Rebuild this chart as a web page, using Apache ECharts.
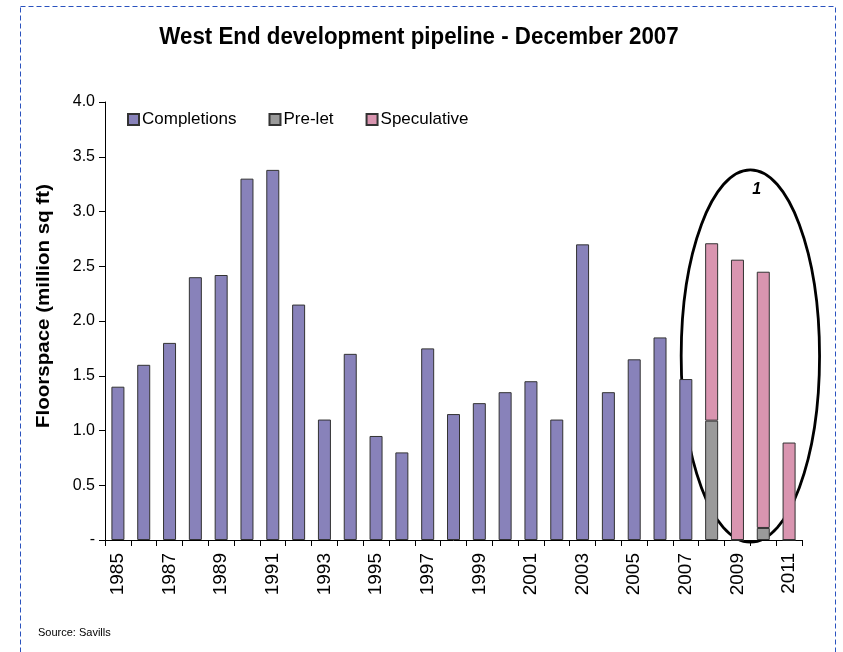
<!DOCTYPE html>
<html><head><meta charset="utf-8">
<script src="https://cdn.jsdelivr.net/npm/echarts@6/dist/echarts.min.js"></script>
<style>html,body{margin:0;padding:0;background:#fff}#c{width:843px;height:652px}</style>
</head><body><div id="c"></div>
<script>
const years = ['1985','1986','1987','1988','1989','1990','1991','1992','1993','1994','1995','1996','1997','1998','1999','2000','2001','2002','2003','2004','2005','2006','2007','2008','2009','2010','2011'];
const completions = [1.4,1.6,1.8,2.4,2.42,3.3,3.38,2.15,1.1,1.7,0.95,0.8,1.75,1.15,1.25,1.35,1.45,1.1,2.7,1.35,1.65,1.85,1.47,null,null,null,null];
const preLet = [null,null,null,null,null,null,null,null,null,null,null,null,null,null,null,null,null,null,null,null,null,null,null,1.09,0,0.11,0];
const speculative = [null,null,null,null,null,null,null,null,null,null,null,null,null,null,null,null,null,null,null,null,null,null,null,1.62,2.56,2.34,0.89];
const yTicks = [0,0.5,1.0,1.5,2.0,2.5,3.0,3.5,4.0];

const FONT = 'Liberation Sans, Arial, sans-serif';
const chart = echarts.init(document.getElementById('c'), null, {renderer:'canvas'});
const barStyle = (c) => ({color:c, borderColor:'#333', borderWidth:1});
chart.setOption({
  animation:false,
  legend:{left:122, top:106, itemWidth:11, itemHeight:11, itemGap:32,
    textStyle:{fontFamily:FONT, fontSize:17, color:'#000', padding:[0,0,0,-2]},
    data:[{name:'Completions',icon:'rect'},{name:'Pre-let',icon:'rect'},{name:'Speculative',icon:'rect'}]},
  grid:{left:105, right:41, top:102, bottom:112, containLabel:false},
  xAxis:{type:'category', data:years, boundaryGap:true,
    axisLine:{lineStyle:{color:'#000', width:1}},
    axisTick:{show:true, length:6, interval:0, alignWithLabel:false, lineStyle:{color:'#000'}},
    axisLabel:{interval:1, rotate:90, fontFamily:FONT, fontSize:19, color:'#000', margin:13}},
  yAxis:{type:'value', min:0, max:4, interval:0.5,
    axisLine:{show:true, lineStyle:{color:'#000'}},
    axisTick:{show:true, length:6, lineStyle:{color:'#000'}},
    splitLine:{show:false},
    axisLabel:{fontFamily:FONT, fontSize:16, color:'#000', margin:10,
      formatter:(v)=> v===0 ? '-' : v.toFixed(1)}},
  series:[
    {name:'Completions', type:'bar', stack:'a', data:completions, barWidth:13, itemStyle:barStyle('#8882BA')},
    {name:'Pre-let', type:'bar', stack:'a', data:preLet, barWidth:13, itemStyle:barStyle('#9A9A9A')},
    {name:'Speculative', type:'bar', stack:'a', data:speculative, barWidth:13, itemStyle:barStyle('#D995B0')}
  ]
});
// annotation ellipse positioned from data coordinates
const p24 = chart.convertToPixel({gridIndex:0}, [24, 0]);
const p25 = chart.convertToPixel({gridIndex:0}, [25, 0]);
const band = p25[0]-p24[0];
const topY = chart.convertToPixel({gridIndex:0}, [24, 3.38])[1];
const botY = chart.convertToPixel({gridIndex:0}, [24, -0.02])[1];
const cx = (p24[0]+p25[0])/2;
chart.setOption({graphic:[
  {type:'rect', shape:{x:20.5, y:6.5, width:815, height:700}, silent:true,
    style:{fill:'none', stroke:'#2A52BE', lineWidth:1, lineDash:[5,3]}},
  {type:'text', x:419, y:37, scaleX:0.93, style:{text:'West End development pipeline - December 2007', fontFamily:FONT, fontSize:24, fontWeight:'bold', fill:'#000', align:'center', verticalAlign:'middle'}},
  {type:'text', x:44, y:306, rotation:Math.PI/2, scaleX:1.08, style:{text:'Floorspace (million sq ft)', fontFamily:FONT, fontSize:19, fontWeight:'bold', fill:'#000', align:'center', verticalAlign:'middle'}},
  {type:'ellipse', shape:{cx:cx, cy:(topY+botY)/2, rx:band*2.68, ry:(botY-topY)/2},
    style:{fill:'none', stroke:'#000', lineWidth:2.8}},
  {type:'text', x:cx+2, y:topY+12, style:{text:'1', fontFamily:FONT, fontSize:16, fontWeight:'bold', fontStyle:'italic', fill:'#000'}},
  {type:'text', x:38, y:627, style:{text:'Source: Savills', fontFamily:FONT, fontSize:11, fill:'#000'}}
]});
</script></body></html>
